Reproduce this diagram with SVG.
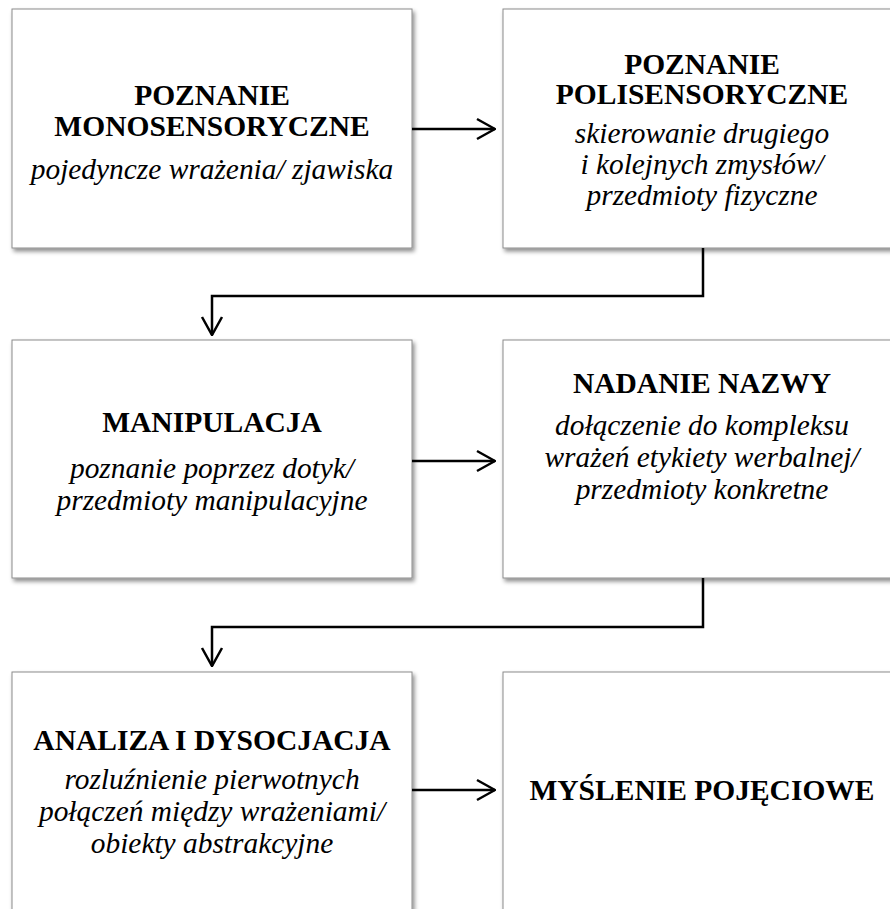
<svg xmlns="http://www.w3.org/2000/svg" width="890" height="909" viewBox="0 0 890 909">
  <style>
    .box { fill: #ffffff; stroke: #8c8c8c; stroke-width: 1; filter: url(#shadow); }
    .title { font-family: 'Liberation Serif', serif; font-weight: bold; font-size: 29.5px; fill: #000; text-anchor: middle; }
    .desc { font-family: 'Liberation Serif', serif; font-style: italic; font-size: 29.4px; fill: #000; text-anchor: middle; }
    .link { fill: none; stroke: #000; stroke-width: 2.5; }
  </style>
  <defs>
    <filter id="shadow" x="-5%" y="-5%" width="115%" height="115%">
      <feDropShadow dx="2" dy="3" stdDeviation="2" flood-color="#000" flood-opacity="0.45"/>
    </filter>
    <marker id="open" viewBox="0 0 20 24" refX="19" refY="12" markerWidth="20" markerHeight="24" markerUnits="userSpaceOnUse" orient="auto">
      <path d="M1,2 L19,12 L1,22" fill="none" stroke="#000" stroke-width="2.5"/>
    </marker>
  </defs>

  <rect width="890" height="909" fill="#ffffff"/>

  <g id="node-monosensoryczne">
    <rect class="box" x="12" y="9" width="400" height="239"/>
    <text class="title" x="212" y="105">POZNANIE</text>
    <text class="title" x="212" y="136">MONOSENSORYCZNE</text>
    <text class="desc" x="212" y="179">pojedyncze wrażenia/ zjawiska</text>
  </g>

  <g id="node-polisensoryczne">
    <rect class="box" x="503" y="9" width="400" height="239"/>
    <text class="title" x="702" y="74">POZNANIE</text>
    <text class="title" x="702" y="104">POLISENSORYCZNE</text>
    <text class="desc" x="702" y="143">skierowanie drugiego</text>
    <text class="desc" x="702" y="174">i kolejnych zmysłów/</text>
    <text class="desc" x="702" y="205">przedmioty fizyczne</text>
  </g>

  <g id="node-manipulacja">
    <rect class="box" x="12" y="340" width="400" height="238"/>
    <text class="title" x="212" y="432">MANIPULACJA</text>
    <text class="desc" x="212" y="478">poznanie poprzez dotyk/</text>
    <text class="desc" x="212" y="510">przedmioty manipulacyjne</text>
  </g>

  <g id="node-nadanie-nazwy">
    <rect class="box" x="503" y="340" width="400" height="238"/>
    <text class="title" x="702" y="393">NADANIE NAZWY</text>
    <text class="desc" x="702" y="435">dołączenie do kompleksu</text>
    <text class="desc" x="702" y="467">wrażeń etykiety werbalnej/</text>
    <text class="desc" x="702" y="499">przedmioty konkretne</text>
  </g>

  <g id="node-analiza">
    <rect class="box" x="12" y="672" width="400" height="250"/>
    <text class="title" x="212" y="750">ANALIZA I DYSOCJACJA</text>
    <text class="desc" x="212" y="789">rozluźnienie pierwotnych</text>
    <text class="desc" x="212" y="821">połączeń między wrażeniami/</text>
    <text class="desc" x="212" y="853">obiekty abstrakcyjne</text>
  </g>

  <g id="node-myslenie">
    <rect class="box" x="503" y="672" width="400" height="250"/>
    <text class="title" x="702" y="800">MYŚLENIE POJĘCIOWE</text>
  </g>

  <g id="connectors">
    <path class="link" d="M412,129 H495" marker-end="url(#open)"/>
    <path class="link" d="M703,248 V296 H212 V335" marker-end="url(#open)"/>
    <path class="link" d="M412,461 H495" marker-end="url(#open)"/>
    <path class="link" d="M703,578 V627 H212 V666" marker-end="url(#open)"/>
    <path class="link" d="M412,790 H495" marker-end="url(#open)"/>
  </g>
</svg>
